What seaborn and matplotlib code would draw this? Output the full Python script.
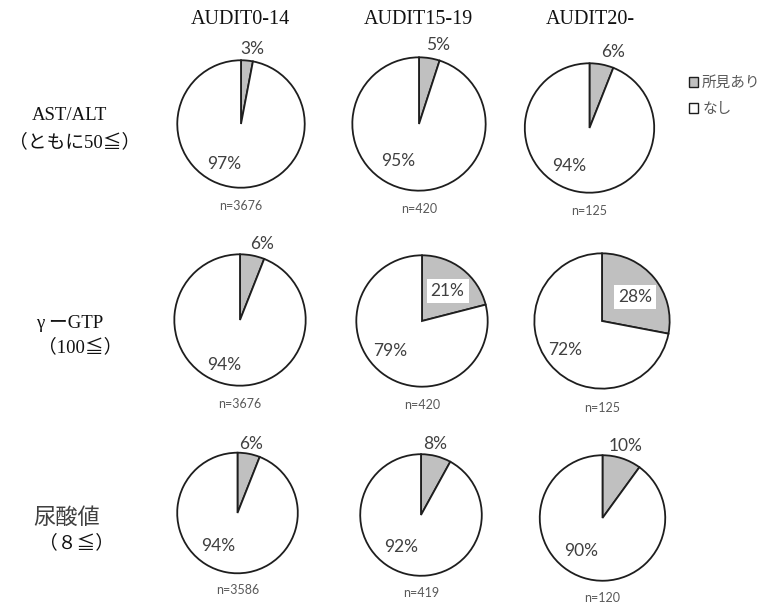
import matplotlib
matplotlib.use("Agg")
import matplotlib.pyplot as plt
from matplotlib.patches import Patch
import seaborn as sns

# ---- data -------------------------------------------------------------
groups = ["AUDIT0-14", "AUDIT15-19", "AUDIT20-"]
items_top = ["AST/ALT", "γ ーGTP", "尿酸値"]
items_bottom = ["（ともに50≦）", "（100≦）", "（８≦）"]
legend_labels = ["所見あり", "なし"]

finding_pct = [[3, 5, 6],
               [6, 21, 28],
               [6, 8, 10]]
normal_pct = [[97, 95, 94],
              [94, 79, 72],
              [94, 92, 90]]
n_counts = [[3676, 420, 125],
            [3676, 420, 125],
            [3586, 419, 120]]

# ---- style ------------------------------------------------------------
sns.set_theme(style="white")
W, H = 761, 605
fig = plt.figure(figsize=(W / 100, H / 100), dpi=100)

GRAY = "#c0c0c0"
EDGE = "#1e1e1e"
PCT_COLOR = "#404040"
N_COLOR = "#595959"
serif_jp = ["Liberation Serif", "Noto Sans CJK JP"]
sans_jp = ["Noto Sans CJK JP", "DejaVu Sans"]
num_font = ["Lato", "DejaVu Sans"]

# pie centres and radii (pixels)
geom = [[(241, 124, 65), (419, 124, 68), (589.5, 128, 66)],
        [(240, 320, 67), (422, 321, 67), (602, 321, 69)],
        [(237.5, 513, 61.5), (421, 515, 62), (602.5, 518, 64)]]

# label offsets in units of the radius: (small slice), (large slice)
small_pos = [[(0.18, 1.18), (0.29, 1.18), (0.36, 1.17)],
             [(0.34, 1.15), (0.39, 0.46), (0.49, 0.35)],
             [(0.22, 1.15), (0.23, 1.16), (0.375, 1.14)]]
big_pos = [[(-0.26, -0.63), (-0.31, -0.56), (-0.32, -0.58)],
           [(-0.24, -0.69), (-0.49, -0.46), (-0.54, -0.43)],
           [(-0.32, -0.55), (-0.32, -0.53), (-0.34, -0.53)]]

for i in range(3):
    for j in range(3):
        cx, cy, r = geom[i][j]
        ax = fig.add_axes([(cx - r) / W, 1 - (cy + r) / H, 2 * r / W, 2 * r / H])
        ax.pie([finding_pct[i][j], normal_pct[i][j]],
               colors=[GRAY, "white"], startangle=90, counterclock=False,
               radius=1.0,
               wedgeprops=dict(edgecolor=EDGE, linewidth=1.3))
        ax.set_xlim(-1.02, 1.02)
        ax.set_ylim(-1.02, 1.02)
        ax.set_aspect("equal")
        ax.axis("off")

        sx, sy = small_pos[i][j]
        inside = sy < 1.0
        ax.text(sx, sy, f"{finding_pct[i][j]}%", ha="center", va="center",
                fontsize=12.5, color=PCT_COLOR, family=num_font,
                bbox=dict(facecolor="white", edgecolor="none", pad=3) if inside else None)
        bx, by = big_pos[i][j]
        ax.text(bx, by, f"{normal_pct[i][j]}%", ha="center", va="center",
                fontsize=12.5, color=PCT_COLOR, family=num_font)
        ax.text(0, -1.28, f"n={n_counts[i][j]}", ha="center", va="center",
                fontsize=9, color=N_COLOR, family=num_font)

# column headers
for x, g in zip([240, 418, 590], groups):
    fig.text(x / W, 1 - 20 / H, g, ha="center", va="center",
             fontsize=14.5, color="#111111", family=serif_jp)

# row labels
row_top_xy = [(69, 115), (70, 323), (67, 517)]
row_bot_xy = [(75, 142), (80, 347), (77, 543)]
for k in range(3):
    tx, ty = row_top_xy[k]
    if k == 2:
        fig.text(tx / W, 1 - ty / H, items_top[k], ha="center", va="center",
                 fontsize=16, color="#404040", family=sans_jp)
    else:
        fig.text(tx / W, 1 - ty / H, items_top[k], ha="center", va="center",
                 fontsize=13.5, color="#111111", family=serif_jp)
    bx_, by_ = row_bot_xy[k]
    fig.text(bx_ / W, 1 - by_ / H, items_bottom[k], ha="center", va="center",
             fontsize=13.5, color="#111111", family=serif_jp)

# legend
handles = [Patch(facecolor=GRAY, edgecolor=EDGE, linewidth=1.0),
           Patch(facecolor="white", edgecolor=EDGE, linewidth=1.0)]
leg = fig.legend(handles, legend_labels, loc="upper left",
                 bbox_to_anchor=(689 / W, 1 - 76 / H), frameon=False,
                 handlelength=0.65, handleheight=0.65, handletextpad=0.25,
                 labelspacing=0.85, borderpad=0, borderaxespad=0,
                 prop=dict(family=sans_jp, size=10.5))
for t in leg.get_texts():
    t.set_color("#595959")

fig.savefig("out.png", dpi=100, facecolor="white")
